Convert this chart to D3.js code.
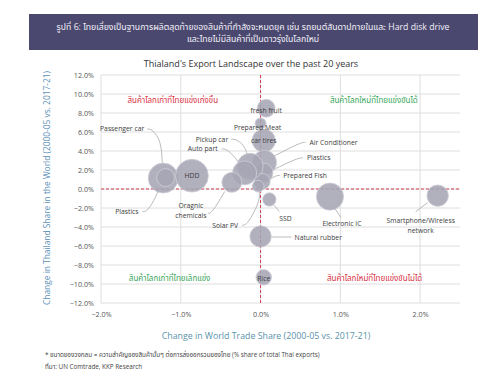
<!DOCTYPE html>
<html>
<head>
<meta charset="utf-8">
<script src="https://cdn.jsdelivr.net/npm/d3@7"></script>
<style>
  body { margin: 0; background: #fff; }
  text { font-family: "Open Sans", "Noto Sans", "Noto Sans Thai", sans-serif; }
</style>
</head>
<body>
<script>
const w = 500;
const h = 389;

// products, change in world trade share (%), change in Thai share (%), share of Thai exports (%)
const products = ["fresh fruit", "Prepared Meat", "car tires", "Air Conditioner", "Plastics", "Prepared Fish",
  "Solar PV", "Pickup car", "Auto part", "Oragnic chemicals", "Passenger car", "Plastics (old)", "HDD",
  "SSD", "Natural rubber", "Rice", "Electronic IC", "Smartphone/Wireless network"];
const worldShareChange = [0.07, 0.0, 0.04, 0.05, 0.03, 0.02, -0.03, -0.13, -0.2, -0.36, -1.22, -1.19, -0.86,
  0.11, 0.0, 0.04, 0.87, 2.22];
const thaiShareChange = [8.5, 6.9, 5.1, 2.8, 1.7, 0.8, 0.3, 2.4, 1.7, 0.7, 1.15, 1.2, 1.4,
  -1.1, -5.0, -9.3, -0.8, -0.7];
const exportShare = [1.6, 0.6, 2.7, 2.9, 2.0, 1.3, 0.7, 3.4, 2.9, 2.0, 4.5, 1.6, 5.4,
  0.9, 2.3, 1.2, 3.7, 2.3];

const xTicks = [-2, -1, 0, 1, 2];
const yTicks = [-12, -10, -8, -6, -4, -2, 0, 2, 4, 6, 8, 10, 12];

// label layout: offsets in px from bubble centre
const labelLayout = [
  { lines: ["fresh fruit"], anchor: "middle", dx: 0, dy: 2 },
  { lines: ["Prepared Meat"], anchor: "middle", dx: -3, dy: 4 },
  { lines: ["car tires"], anchor: "middle", dx: 0, dy: 0 },
  { lines: ["Air Conditioner"], anchor: "start", dx: 45, dy: -20, leader: [[41, -20], [36, -20], [9, -6]] },
  { lines: ["Plastics"], anchor: "start", dx: 44, dy: -15, leader: [[40, -15], [35, -15], [8, -2]] },
  { lines: ["Prepared Fish"], anchor: "start", dx: 21, dy: -6, leader: [[18, -6], [14, -6], [6, -1]] },
  { lines: ["Solar PV"], anchor: "end", dx: -20, dy: 39, leader: [[-16, 39], [-11, 39], [2, 15], [1, 5]] },
  { lines: ["Pickup car"], anchor: "end", dx: -22, dy: -27, leader: [[-19, -27], [-14, -27], [-6, -21], [-3, -12]] },
  { lines: ["Auto part"], anchor: "end", dx: -27, dy: -24, leader: [[-23, -24], [-18, -24], [-9, -15], [-6, -10]] },
  { lines: ["Oragnic", "chemicals"], anchor: "middle", dx: -41, dy: 23, leader: [[-24, 31], [-20, 31], [-7, 9]] },
  { lines: ["Passenger car"], anchor: "end", dx: -19, dy: -49, leader: [[-16, -49], [-11, -49], [-2, -37], [-1, -15]] },
  { lines: ["Plastics"], anchor: "end", dx: -27, dy: 34, leader: [[-23, 34], [-18, 34], [-9, 18], [-7, 11]] },
  { lines: ["HDD"], anchor: "middle", dx: 0, dy: 0 },
  { lines: ["SSD"], anchor: "start", dx: 10, dy: 19, leader: [[4, 5], [10, 12]] },
  { lines: ["Natural rubber"], anchor: "start", dx: 34, dy: 1, leader: [[11, 0.5], [31, 0.5]] },
  { lines: ["Rice"], anchor: "middle", dx: 0, dy: 1 },
  { lines: ["Electronic IC"], anchor: "middle", dx: 12, dy: 27, leader: [[5, 12], [11, 21]] },
  { lines: ["Smartphone/Wireless", "network"], anchor: "middle", dx: -17, dy: 25, leader: [[-22, 16], [-10, 7]] }
];

const quadrants = [
  { text: "สินค้าโลกเก่าที่ไทยแข่งเก่งขึ้น", x: -1.1, y: 9.4, color: "#d8323f" },
  { text: "สินค้าโลกใหม่ที่ไทยแข่งขันได้", x: 1.42, y: 9.4, color: "#3aa65a" },
  { text: "สินค้าโลกเก่าที่ไทยเลิกแข่ง", x: -1.14, y: -9.4, color: "#3aa65a" },
  { text: "สินค้าโลกใหม่ที่ไทยแข่งขันไม่ได้", x: 1.43, y: -9.4, color: "#d8323f" }
];

const svg = d3.select("body").append("svg").attr("width", w).attr("height", h);

// header banner
svg.append("rect").attr("x", 29).attr("y", 14).attr("width", 449).attr("height", 36).attr("fill", "#4b4870");
svg.selectAll(".head")
  .data(["รูปที่ 6: ไทยเสี่ยงเป็นฐานการผลิตสุดท้ายของสินค้าที่กำลังจะหมดยุค เช่น รถยนต์สันดาปภายในและ Hard disk drive",
    "และไทยไม่มีสินค้าที่เป็นดาวรุ่งในโลกใหม่"])
  .enter().append("text")
  .attr("x", 253).attr("y", (d, i) => 30 + i * 12)
  .attr("text-anchor", "middle").attr("fill", "#f2f1f7").attr("font-size", 8.7)
  .text((d) => d);

const x = d3.scaleLinear().domain([-2, 2.5]).range([101, 460]);
const y = d3.scaleLinear().domain([-12, 12]).range([303, 75]);
const r = d3.scaleSqrt().domain([0, 6]).range([0, 17.3]);

svg.append("text").attr("x", 251).attr("y", 67).attr("text-anchor", "middle")
  .attr("font-size", 9).attr("fill", "#333").text("Thialand's Export Landscape over the past 20 years");

// grid
svg.append("g").selectAll("line").data(yTicks).enter().append("line")
  .attr("x1", x(-2)).attr("x2", x(2.5)).attr("y1", (d) => y(d)).attr("y2", (d) => y(d))
  .attr("stroke", "#dedede").attr("stroke-width", 1);
svg.append("g").selectAll("line").data(xTicks).enter().append("line")
  .attr("x1", (d) => x(d)).attr("x2", (d) => x(d)).attr("y1", y(12)).attr("y2", y(-12))
  .attr("stroke", "#dedede").attr("stroke-width", 1);

// axes
const fmt = (d) => d3.format(".1f")(d) + "%";
const yAxis = svg.append("g").attr("transform", `translate(${x(-2)},0)`)
  .call(d3.axisLeft(y).tickValues(yTicks).tickFormat(fmt).tickSize(0).tickPadding(7));
const xAxis = svg.append("g").attr("transform", `translate(0,${y(-12)})`)
  .call(d3.axisBottom(x).tickValues(xTicks).tickFormat(fmt).tickSize(0).tickPadding(9));
[xAxis, yAxis].forEach((a) => {
  a.select(".domain").remove();
  a.selectAll("text").attr("font-size", 7.2).attr("fill", "#555")
    .style("font-family", "'Open Sans', sans-serif");
});

// zero lines
svg.append("line").attr("x1", x(0)).attr("x2", x(0)).attr("y1", y(12)).attr("y2", y(-12))
  .attr("stroke", "#d23a4e").attr("stroke-dasharray", "3,2").attr("stroke-width", 1);
svg.append("line").attr("x1", x(-2)).attr("x2", x(2.5)).attr("y1", y(0)).attr("y2", y(0))
  .attr("stroke", "#d23a4e").attr("stroke-dasharray", "3,2").attr("stroke-width", 1);

// axis titles
svg.append("text").attr("x", 266).attr("y", 339).attr("text-anchor", "middle")
  .attr("font-size", 8.8).attr("fill", "#5a93aa").text("Change in World Trade Share (2000-05 vs. 2017-21)");
svg.append("text").attr("transform", "translate(50,188) rotate(-90)").attr("text-anchor", "middle")
  .attr("font-size", 8.4).attr("fill", "#5a8fb8").text("Change in Thailand Share in the World (2000-05 vs. 2017-21)");

// quadrant labels
svg.selectAll(".quad").data(quadrants).enter().append("text")
  .attr("x", (d) => x(d.x)).attr("y", (d) => y(d.y)).attr("dy", "0.35em")
  .attr("text-anchor", "middle").attr("font-size", 8).attr("fill", (d) => d.color)
  .text((d) => d.text);

const data = products.map((p, i) => ({
  name: p, wx: worldShareChange[i], ty: thaiShareChange[i], s: exportShare[i], lab: labelLayout[i]
}));

// leaders
const line = d3.line().curve(d3.curveBasis);
svg.append("g").selectAll("path").data(data.filter((d) => d.lab.leader)).enter().append("path")
  .attr("d", (d) => line(d.lab.leader.map((p) => [x(d.wx) + p[0], y(d.ty) + p[1]])))
  .attr("fill", "none").attr("stroke", "#a9a9a9").attr("stroke-width", 0.8);

// bubbles
svg.append("g").selectAll("circle").data(data).enter().append("circle")
  .attr("cx", (d) => x(d.wx)).attr("cy", (d) => y(d.ty)).attr("r", (d) => r(d.s))
  .attr("fill", "#a6a5b4").attr("fill-opacity", 0.88)
  .attr("stroke", "#cfced8").attr("stroke-width", 0.8);

// labels
const lab = svg.append("g").selectAll("text").data(data).enter().append("text")
  .attr("text-anchor", (d) => d.lab.anchor)
  .attr("font-size", 6.8).attr("fill", "#3d3d3d");
lab.selectAll("tspan").data((d) => d.lab.lines.map((t, i) => ({ t, i, d }))).enter().append("tspan")
  .attr("x", (o) => x(o.d.wx) + o.d.lab.dx)
  .attr("y", (o) => y(o.d.ty) + o.d.lab.dy + o.i * 10)
  .attr("dy", "0.35em")
  .text((o) => o.t);

// footnotes
svg.selectAll(".note")
  .data(["* ขนาดของวงกลม = ความสำคัญของสินค้านั้นๆ ต่อการส่งออกรวมของไทย (% share of total Thai exports)",
    "ที่มา: UN Comtrade, KKP Research"])
  .enter().append("text")
  .attr("x", 45).attr("y", (d, i) => 357 + i * 12)
  .attr("font-size", 6.3).attr("fill", "#444")
  .text((d) => d);
</script>
</body>
</html>
